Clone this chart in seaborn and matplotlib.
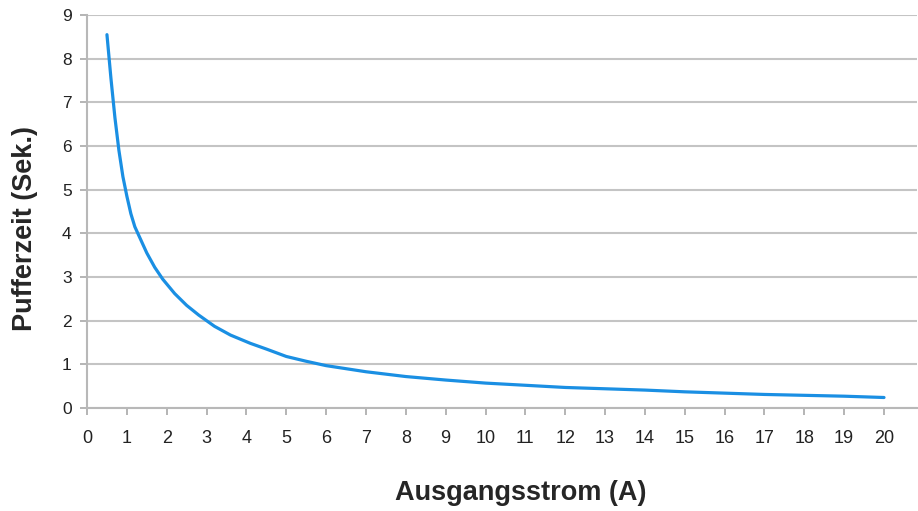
import matplotlib
matplotlib.use("Agg")
import matplotlib.pyplot as plt
import seaborn as sns
import pandas as pd

# values
strom = [0.5, 0.6, 0.7, 0.8, 0.9, 1.0, 1.1, 1.2, 1.3, 1.5, 1.7, 1.9, 2.2, 2.5, 2.8,
         3.2, 3.6, 4.1, 4.5, 5.0, 5.5, 6.0, 7.0, 8.0, 9.0, 10, 11, 12, 13, 14, 15,
         16, 17, 18, 19, 20]
pufferzeit = [8.55, 7.55, 6.65, 5.9, 5.3, 4.85, 4.45, 4.15, 3.95, 3.55, 3.22, 2.95,
              2.62, 2.35, 2.13, 1.87, 1.67, 1.48, 1.35, 1.18, 1.07, 0.97, 0.83, 0.72,
              0.64, 0.57, 0.52, 0.47, 0.44, 0.41, 0.37, 0.34, 0.31, 0.29, 0.27, 0.24]
x_ticks = list(range(0, 21))
y_ticks = list(range(0, 10))

df = pd.DataFrame({"Strom": strom, "Zeit": pufferzeit})

sns.set_style("white")
plt.rcParams["font.family"] = ["Liberation Sans", "DejaVu Sans"]

fig = plt.figure(figsize=(9.18, 5.11), dpi=100)
ax = fig.add_axes([0.0948, 0.2016, 0.9042, 0.769])

sns.lineplot(data=df, x="Strom", y="Zeit", ax=ax, color="#1a8fe3", linewidth=2.3,
             solid_capstyle="round", zorder=3)

ax.set_xlim(0, 20.83)
ax.set_ylim(0, 9)
ax.set_xticks(x_ticks)
ax.set_yticks(y_ticks)
ax.grid(axis="y", color="#c4c4c4", linewidth=1.5)
ax.grid(axis="x", visible=False)

for side in ["top", "right"]:
    ax.spines[side].set_visible(False)
for side in ["left", "bottom"]:
    ax.spines[side].set_color("#b8b8b8")
    ax.spines[side].set_linewidth(1.5)

ax.tick_params(axis="both", bottom=True, left=True, colors="#a8a8a8", length=5,
               width=1.2, labelcolor="#222222")
ax.tick_params(axis="x", labelsize=13, pad=11)
ax.tick_params(axis="y", labelsize=12.5, pad=6)

ax.set_xlabel("Ausgangsstrom (A)", fontsize=19.5, fontweight="bold", va="center")
ax.set_ylabel("Pufferzeit (Sek.)", fontsize=19.5, fontweight="bold", va="center")
ax.xaxis.set_label_coords(0.523, -0.216)
ax.yaxis.set_label_coords(-0.075, 0.458)

fig.savefig("out.png", dpi=100)
